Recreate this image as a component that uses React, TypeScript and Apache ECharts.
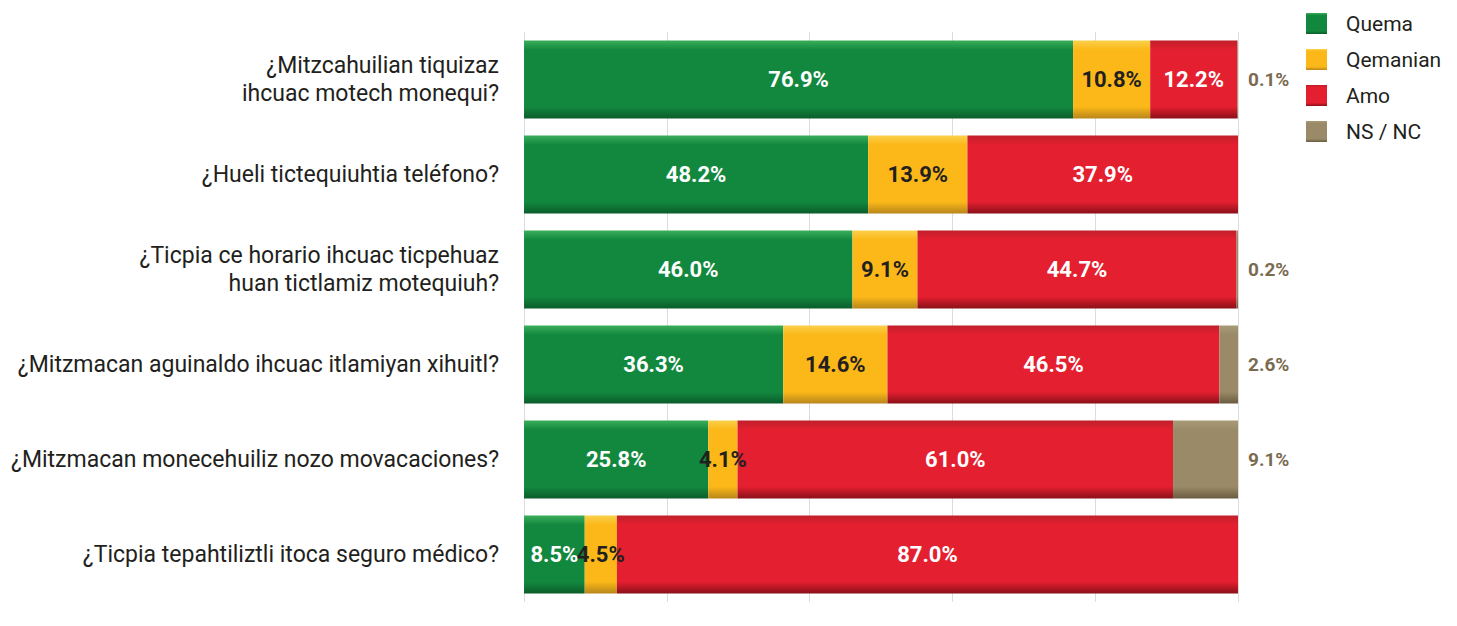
import React, { useEffect, useRef } from "react";
import * as echarts from "echarts";

const categories = [
  "¿Mitzcahuilian tiquizaz\nihcuac motech monequi?",
  "¿Hueli tictequiuhtia teléfono?",
  "¿Ticpia ce horario ihcuac ticpehuaz\nhuan tictlamiz motequiuh?",
  "¿Mitzmacan aguinaldo ihcuac itlamiyan xihuitl?",
  "¿Mitzmacan monecehuiliz nozo movacaciones?",
  "¿Ticpia tepahtiliztli itoca seguro médico?",
];
const quema = [76.9, 48.2, 46.0, 36.3, 25.8, 8.5];
const qemanian = [10.8, 13.9, 9.1, 14.6, 4.1, 4.5];
const amo = [12.2, 37.9, 44.7, 46.5, 61.0, 87.0];
const nsnc = [0.1, null, 0.2, 2.6, 9.1, null];

const grad = (top: string, mid: string, bottom: string) =>
  new echarts.graphic.LinearGradient(0, 0, 0, 1, [
    { offset: 0, color: top },
    { offset: 0.12, color: mid },
    { offset: 0.85, color: mid },
    { offset: 1, color: bottom },
  ]);

export default function App() {
  const ref = useRef<HTMLDivElement>(null);
  useEffect(() => {
    if (!ref.current) return;
    const chart = echarts.init(ref.current, null, { renderer: "svg" });
    const fmt = (p: any) => (p.value == null ? "" : Number(p.value).toFixed(1) + "%");
    const labelBase = {
      show: true,
      formatter: fmt,
      fontSize: 22,
      fontWeight: "bold" as const,
      fontFamily: "Roboto, sans-serif",
    };
    chart.setOption({
      animation: false,
      textStyle: { fontFamily: "Roboto, sans-serif" },
      legend: {
        orient: "vertical",
        left: 1293,
        top: 0,
        icon: "rect",
        itemWidth: 21,
        itemHeight: 21,
        itemGap: 15,
        textStyle: {
          fontSize: 21,
          color: "#231f20",
          fontFamily: "Roboto, sans-serif",
          padding: [0, 0, 0, 14],
        },
        data: ["Quema", "Qemanian", "Amo", "NS / NC"],
      },
      grid: { left: 512, right: 211, top: 24, bottom: 16 },
      xAxis: {
        type: "value",
        min: 0,
        max: 100,
        interval: 20,
        axisLabel: { show: false },
        axisLine: { show: false },
        axisTick: { show: false },
        splitLine: { show: true, lineStyle: { color: "#dcdcdc" } },
      },
      yAxis: {
        type: "category",
        inverse: true,
        data: categories,
        axisLine: { show: false },
        axisTick: { show: false },
        axisLabel: {
          margin: 25,
          fontSize: 23,
          lineHeight: 28,
          color: "#231f20",
          align: "right",
          fontFamily: "Roboto, sans-serif",
        },
      },
      series: [
        {
          name: "Quema",
          type: "bar",
          stack: "t",
          barWidth: 78,
          data: quema,
          itemStyle: { color: grad("#3aae5a", "#12883f", "#0a5c2a") },
          label: { ...labelBase, position: "inside", color: "#ffffff" },
        },
        {
          name: "Qemanian",
          type: "bar",
          stack: "t",
          data: qemanian,
          itemStyle: { color: grad("#fbd04a", "#fbb818", "#b8861a") },
          label: { ...labelBase, position: "inside", color: "#231f20" },
        },
        {
          name: "Amo",
          type: "bar",
          stack: "t",
          data: amo,
          itemStyle: { color: grad("#c0202a", "#e41f30", "#8a1018") },
          label: { ...labelBase, position: "inside", color: "#ffffff" },
        },
        {
          name: "NS / NC",
          type: "bar",
          stack: "t",
          data: nsnc,
          itemStyle: { color: grad("#a89a78", "#9a8a68", "#6a5c40") },
          label: { ...labelBase, position: "right", distance: 10, fontSize: 19, color: "#7a6a50" },
        },
      ],
    });
    return () => chart.dispose();
  }, []);
  return <div ref={ref} style={{ width: 1441, height: 610 }} />;
}
